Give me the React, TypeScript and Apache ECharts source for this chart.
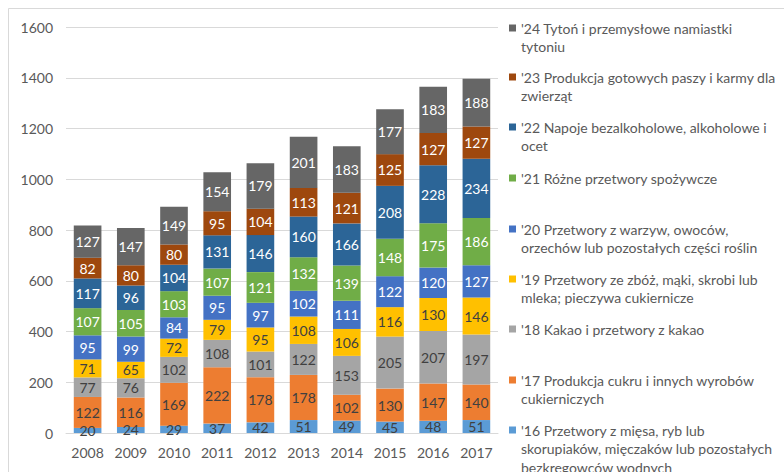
import React, { useEffect, useRef } from "react";
import * as echarts from "echarts";

const years = ["2008", "2009", "2010", "2011", "2012", "2013", "2014", "2015", "2016", "2017"];

const s16 = [20, 24, 29, 37, 42, 51, 49, 45, 48, 51];
const s17 = [122, 116, 169, 222, 178, 178, 102, 130, 147, 140];
const s18 = [77, 76, 102, 108, 101, 122, 153, 205, 207, 197];
const s19 = [71, 65, 72, 79, 95, 108, 106, 116, 130, 146];
const s20 = [95, 99, 84, 95, 97, 102, 111, 122, 120, 127];
const s21 = [107, 105, 103, 107, 121, 132, 139, 148, 175, 186];
const s22 = [117, 96, 104, 131, 146, 160, 166, 208, 228, 234];
const s23 = [82, 80, 80, 95, 104, 113, 121, 125, 127, 127];
const s24 = [127, 147, 149, 154, 179, 201, 183, 177, 183, 188];

const legendLines16 = ["'16 Przetwory z mięsa, ryb lub", "skorupiaków, mięczaków lub pozostałych", "bezkręgowców wodnych"];
const legendLines17 = ["'17 Produkcja cukru i innych wyrobów", "cukierniczych"];
const legendLines18 = ["'18 Kakao i przetwory z kakao"];
const legendLines19 = ["'19 Przetwory ze zbóż, mąki, skrobi lub", "mleka; pieczywa cukiernicze"];
const legendLines20 = ["'20 Przetwory z warzyw, owoców,", "orzechów lub pozostałych części roślin"];
const legendLines21 = ["'21 Różne przetwory spożywcze"];
const legendLines22 = ["'22 Napoje bezalkoholowe, alkoholowe i", "ocet"];
const legendLines23 = ["'23 Produkcja gotowych paszy i karmy dla", "zwierząt"];
const legendLines24 = ["'24 Tytoń i przemysłowe namiastki", "tytoniu"];

const yTicks = [0, 200, 400, 600, 800, 1000, 1200, 1400, 1600];

export default function App() {
  const ref = useRef<HTMLDivElement>(null);
  useEffect(() => {
    if (!ref.current) return;
    const chart = echarts.init(ref.current, undefined, { renderer: "svg" });
    const FONT = "Lato";
    const L = 18.6;
    const defs = [
      { lines: legendLines16, data: s16, color: "#5B9BD5", label: "#404040" },
      { lines: legendLines17, data: s17, color: "#ED7D31", label: "#404040" },
      { lines: legendLines18, data: s18, color: "#A5A5A5", label: "#404040" },
      { lines: legendLines19, data: s19, color: "#FFC000", label: "#404040" },
      { lines: legendLines20, data: s20, color: "#4472C4", label: "#ffffff" },
      { lines: legendLines21, data: s21, color: "#70AD47", label: "#ffffff" },
      { lines: legendLines22, data: s22, color: "#2C6597", label: "#ffffff" },
      { lines: legendLines23, data: s23, color: "#9E480E", label: "#ffffff" },
      { lines: legendLines24, data: s24, color: "#666666", label: "#ffffff" },
    ];
    const names = defs.map((d) => d.lines.join(" "));
    const firstLineY = [430, 380, 329, 279, 229, 178, 127, 77, 28];
    const legends = defs.map((d, i) => {
      const n = d.lines.length;
      const top = firstLineY[i] - (n - 1) * L - L / 2;
      return {
        data: [names[i]],
        orient: "vertical",
        left: 509,
        top,
        padding: 0,
        icon: "rect",
        itemWidth: 7,
        itemHeight: 7,
        selectedMode: false,
        formatter: () => {
          const pad = n > 1 ? `{p${n - 1}| }\n` : "";
          return pad + d.lines.map((l) => `{t|${l}}`).join("\n");
        },
        textStyle: {
          rich: {
            t: { fontFamily: FONT, fontSize: 14, color: "#595959", lineHeight: L, height: L },
            p1: { fontSize: 10, lineHeight: L, height: L },
            p2: { fontSize: 10, lineHeight: 2 * L, height: 2 * L },
          },
        },
      };
    });
    chart.setOption({
      animation: false,
      textStyle: { fontFamily: FONT },
      graphic: [
        {
          type: "rect",
          shape: { x: 8.5, y: 8.5, width: 820, height: 520 },
          style: { fill: "none", stroke: "#d9d9d9", lineWidth: 1 },
          silent: true,
        },
      ],
      grid: { left: 66, right: 286, top: 27, bottom: 39 },
      legend: legends,
      xAxis: {
        type: "category",
        data: years,
        axisLine: { lineStyle: { color: "#d9d9d9" } },
        axisTick: { show: false },
        axisLabel: { color: "#595959", fontSize: 14, fontFamily: FONT, margin: 12 },
      },
      yAxis: {
        type: "value",
        min: yTicks[0],
        max: yTicks[yTicks.length - 1],
        interval: 200,
        axisLine: { show: false },
        axisTick: { show: false },
        splitLine: { lineStyle: { color: "#d9d9d9" } },
        axisLabel: {
          color: "#595959",
          fontSize: 14,
          fontFamily: FONT,
          margin: 13,
          formatter: (v: number) => String(v),
        },
      },
      series: defs.map((d, i) => ({
        name: names[i],
        type: "bar",
        stack: "total",
        data: d.data,
        barCategoryGap: "36%",
        itemStyle: { color: d.color },
        label: {
          show: true,
          position: "inside",
          color: d.label,
          fontSize: 14,
          fontFamily: FONT,
        },
      })),
    });
    return () => chart.dispose();
  }, []);
  return (
    <div
      ref={ref}
      style={{ position: "fixed", left: 0, top: 0, width: 784, height: 472, background: "#fff" }}
    />
  );
}
